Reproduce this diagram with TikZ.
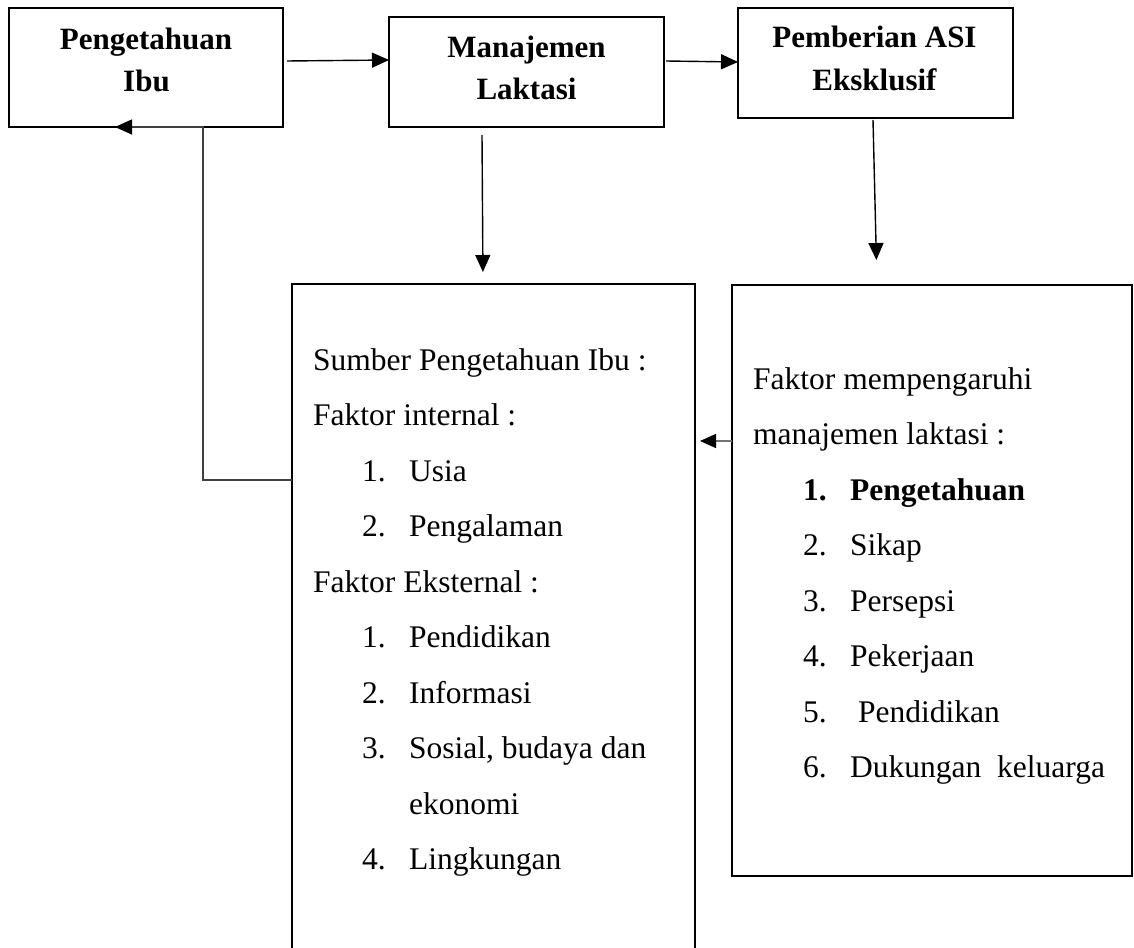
\documentclass[tikz,border=0pt]{standalone}
\usepackage{fontspec}
\setmainfont{Liberation Serif}
\usetikzlibrary{arrows.meta}
\tikzset{
  box/.style={draw=black, line width=2.4pt, inner sep=0pt, outer sep=0pt},
  ttl/.style={font=\fontsize{31pt}{38pt}\selectfont\bfseries, anchor=base, inner sep=0pt},
  txt/.style={font=\fontsize{31.5pt}{38pt}\selectfont, anchor=base west, inner sep=0pt},
  btxt/.style={txt, font=\fontsize{31.5pt}{38pt}\selectfont\bfseries},
  arr/.style={draw=black, line width=1.4pt, -{Triangle[length=17pt,width=15pt]}},
  garr/.style={draw=black!55, line width=1.4pt, -{Triangle[length=16pt,width=14pt,fill=black,color=black]}},
}
\begin{document}
\begin{tikzpicture}[x={(1pt,0)}, y={(0,-1pt)}]
\useasboundingbox (0,0) rectangle (1134,947);
\clip (0,0) rectangle (1134,947);
% boxes
\node[box, minimum width=274pt, minimum height=119pt] (b1) at (146,67.5) {};
\node[box, minimum width=275pt, minimum height=110pt] (b2) at (526.5,72) {};
\node[box, minimum width=275pt, minimum height=110pt] (b3) at (875.5,63) {};
\node[box, minimum width=403pt, minimum height=736pt] (b4) at (493.5,652) {};
\node[box, minimum width=400pt, minimum height=591pt] (b5) at (932,580.5) {};
% titles
\node[ttl] (t1a) at (146,50) {Pengetahuan};
\node[ttl] (t1b) at (146.5,92) {Ibu};
\node[ttl] (t2a) at (526.5,58) {Manajemen};
\node[ttl] (t2b) at (526.5,100) {Laktasi};
\node[ttl] (t3a) at (874.5,48) {Pemberian ASI};
\node[ttl] (t3b) at (874.5,91) {Eksklusif};
% left list
\node[txt] (l1) at (313,370) {Sumber Pengetahuan Ibu :};
\node[txt] (l2) at (313,425.5) {Faktor internal :};
\node[txt] (l3n) at (362,481) {1.};
\node[txt] (l3) at (409,481) {Usia};
\node[txt] (l4n) at (362,536.5) {2.};
\node[txt] (l4) at (409,536.5) {Pengalaman};
\node[txt] (l5) at (313,592) {Faktor Eksternal :};
\node[txt] (l6n) at (362,647.5) {1.};
\node[txt] (l6) at (409,647.5) {Pendidikan};
\node[txt] (l7n) at (362,703) {2.};
\node[txt] (l7) at (409,703) {Informasi};
\node[txt] (l8n) at (362,758.5) {3.};
\node[txt] (l8) at (409,758.5) {Sosial, budaya dan};
\node[txt] (l9) at (409,814) {ekonomi};
\node[txt] (l10n) at (362,869.5) {4.};
\node[txt] (l10) at (409,869.5) {Lingkungan};
% right list
\node[txt] (r1) at (753,389) {Faktor mempengaruhi};
\node[txt] (r2) at (753,444.5) {manajemen laktasi :};
\node[btxt] (r3n) at (803,500) {1.};
\node[btxt] (r3) at (850,500) {Pengetahuan};
\node[txt] (r4n) at (803,555.5) {2.};
\node[txt] (r4) at (850,555.5) {Sikap};
\node[txt] (r5n) at (803,611) {3.};
\node[txt] (r5) at (850,611) {Persepsi};
\node[txt] (r6n) at (803,666.5) {4.};
\node[txt] (r6) at (850,666.5) {Pekerjaan};
\node[txt] (r7n) at (803,722) {5.};
\node[txt] (r7) at (858,722) {Pendidikan};
\node[txt] (r8n) at (803,777.5) {6.};
\node[txt] (r8) at (850,777.5) {Dukungan\ \ keluarga};
% connectors
\draw[arr] ([xshift=4pt]b1.east |- 0,61) -- (b2.west |- 0,60);
\draw[arr] ([xshift=2pt]b2.east |- 0,61) -- (b3.west |- 0,62);
\draw[arr, shorten >=12pt] (482,135) -- (b4.north -| 483,0);
\draw[arr, shorten >=25pt] (873,120) -- (b5.north -| 877,0);
\draw[garr, shorten >=5pt] (b5.west |- 0,441) -- (b4.east |- 0,441);
\draw[draw=black!75, line width=1.3pt, -{Triangle[length=17pt,width=15pt,fill=black,color=black]}]
  (b4.west |- 0,480) -| (b1.south -| 203,0) -- (b1.south -| 115,0);
\end{tikzpicture}
\end{document}
